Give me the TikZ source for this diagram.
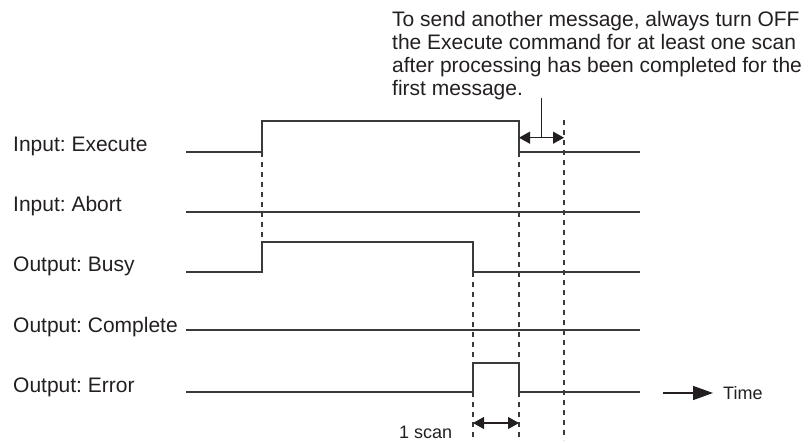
\documentclass[tikz,border=0pt]{standalone}
\usepackage{fontspec}
\setmainfont{Liberation Sans}
\usetikzlibrary{arrows.meta,positioning,calc}
\definecolor{ink}{HTML}{231F20}
\definecolor{wire}{HTML}{3A3A3A}
\frenchspacing

\begin{document}
\begin{tikzpicture}[x=1pt,y=-1pt,
    lbl/.style={anchor=base west,inner sep=0pt,text=ink,font=\fontsize{21}{23}\selectfont},
    small/.style={anchor=base west,inner sep=0pt,text=ink,font=\fontsize{18}{20}\selectfont},
    signal/.style={draw=wire,line width=1.1pt},
    guide/.style={draw=wire,line width=1.1pt,dash pattern=on 5pt off 5pt},
    span/.style={draw=ink,line width=1.1pt,{Triangle[length=11pt,width=12pt]}-{Triangle[length=11pt,width=12pt]}}]
    \useasboundingbox (0,0) rectangle (810,443);

    % signal names
    \node[lbl] (exec) at (13,152) {Input: Execute};
    \node[lbl] (abort) at (13,212) {Input: Abort};
    \node[lbl] (busy) at (13,272) {Output: Busy};
    \node[lbl] (cmpl) at (13,332) {Output: Complete};
    \node[lbl] (err) at (13,392) {Output: Error};

    % waveforms
    \draw[signal] (186,152) -- (262,152) -- (262,121) -- (519,121) -- (519,152) -- (640,152);
    \draw[signal] (186,212) -- (640,212);
    \draw[signal] (186,272) -- (262,272) -- (262,242) -- (473,242) -- (473,272) -- (640,272);
    \draw[signal] (186,330) -- (640,330);
    \draw[signal] (186,392) -- (473,392) -- (473,363) -- (519,363) -- (519,392) -- (640,392);

    % timing guides
    \draw[guide] (262,152) -- (262,242);
    \draw[guide] (473,272) -- (473,440);
    \draw[guide] (519,152) -- (519,440);
    \draw[guide] (564,120) -- (564,440);

    % one scan spans
    \coordinate (a1) at (519,137.7);
    \coordinate (a2) at (564,137.7);
    \coordinate (b1) at (473,423);
    \coordinate (b2) at (519,423);
    \draw[span] (a1) -- (a2);
    \draw[span] (b1) -- (b2);
    \node[small] (scan) at (399,438) {1 scan};

    % note
    \node[lbl,align=left] (note) at (392,96) {To send another message, always turn OFF\\the Execute command for at least one scan\\after processing has been completed for the\\first message.};
    \coordinate (lead) at (541.7,98);
    \draw[ink,line width=0.9pt] (lead) -- (lead |- a1);

    % time axis
    \node[small] (time) at (723,399) {Time};
    \coordinate (t0) at (663,393);
    \draw[ink,line width=1.5pt,-{Triangle[length=20pt,width=14pt]}] (t0) -- ([xshift=-10pt]time.west |- t0);
\end{tikzpicture}
\end{document}
